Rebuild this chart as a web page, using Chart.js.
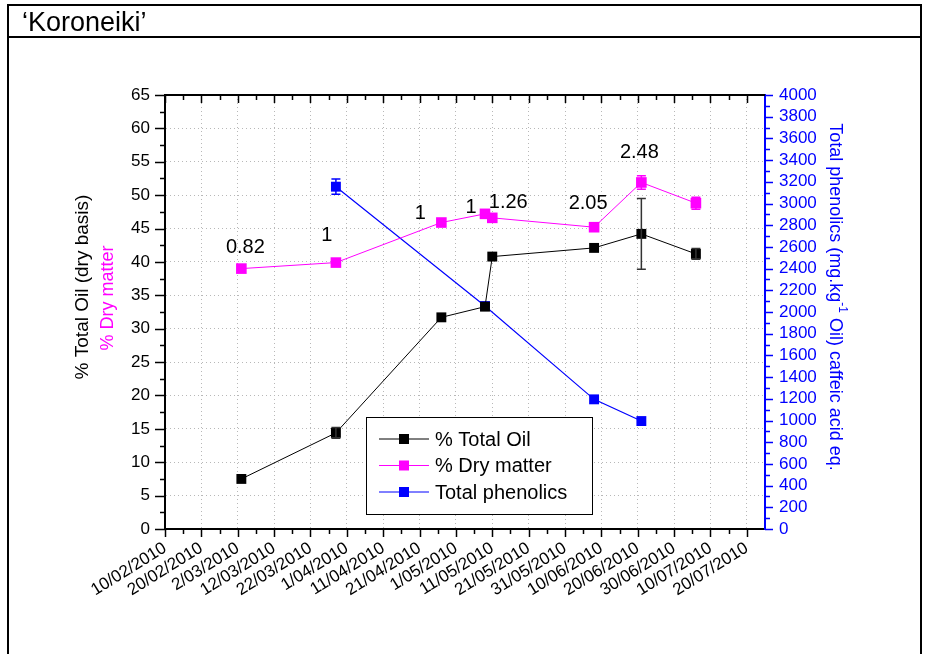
<!DOCTYPE html>
<html>
<head>
<meta charset="utf-8">
<script src="https://cdn.jsdelivr.net/npm/chart.js@4.4.1/dist/chart.umd.min.js"></script>
<style>
  html, body { margin: 0; padding: 0; background: #fff; }
</style>
</head>
<body>
<canvas id="grafico" width="926" height="654"></canvas>
<script>
// Datos
const fechasAceite = ['2010-03-03', '2010-03-29', '2010-04-27', '2010-05-09', '2010-05-11', '2010-06-08', '2010-06-21', '2010-07-06'];
const aceiteTotal = [7.5, 14.4, 31.7, 33.3, 40.8, 42.1, 44.2, 41.2];
const errorAceite = [0, 0.8, 0, 0, 0, 0, 5.3, 0.8];
const materiaSeca = [39.0, 39.9, 45.9, 47.2, 46.6, 45.2, 51.9, 48.8];
const errorMateria = [0, 0, 0, 0, 0, 0, 1.0, 0.9];
const fechasFenoles = ['2010-03-29', '2010-05-09', '2010-06-08', '2010-06-21'];
const fenolesTotales = [3155, 2055, 1195, 995];
const errorFenoles = [70, 0, 0, 0];
const etiquetasRatio = ['0.82', '1', '1', '1', '1.26', '2.05', '2.48'];
const etiquetasFechas = ['10/02/2010', '20/02/2010', '2/03/2010', '12/03/2010', '22/03/2010', '1/04/2010',
  '11/04/2010', '21/04/2010', '1/05/2010', '11/05/2010', '21/05/2010', '31/05/2010', '10/06/2010',
  '20/06/2010', '30/06/2010', '10/07/2010', '20/07/2010'];

const FUENTE = "'Liberation Sans', Arial, sans-serif";
const DIA0 = Date.UTC(2010, 1, 10);
const DIA_MS = 86400000;

// Helper: fecha ISO -> días desde el inicio del eje
function dia(iso) {
  return Math.round((Date.parse(iso) - DIA0) / DIA_MS);
}
// Helper: 'd/mm/yyyy' -> días desde el inicio del eje
function diaDMY(txt) {
  const [d, m, a] = txt.split('/').map(Number);
  return Math.round((Date.UTC(a, m - 1, d) - DIA0) / DIA_MS);
}

const serieAceite = fechasAceite.map((f, i) => ({ x: dia(f), y: aceiteTotal[i] }));
const serieMateria = fechasAceite.map((f, i) => ({ x: dia(f), y: materiaSeca[i] }));
const serieFenoles = fechasFenoles.map((f, i) => ({ x: dia(f), y: fenolesTotales[i] }));

// ----------- Marco, título y marcas de los ejes -----------
const marcoPlugin = {
  id: 'marco',
  afterDraw(chart) {
    const c = chart.ctx;
    const a = chart.chartArea;
    const sx = chart.scales.x, sy = chart.scales.y, sy2 = chart.scales.y2;
    c.save();
    // marco exterior
    c.strokeStyle = '#000';
    c.lineWidth = 2;
    c.beginPath();
    c.moveTo(8, 654); c.lineTo(8, 5); c.lineTo(921, 5); c.lineTo(921, 654);
    c.moveTo(8, 37); c.lineTo(921, 37);
    c.stroke();
    c.fillStyle = '#000';
    c.font = '27px ' + FUENTE;
    c.textBaseline = 'alphabetic';
    c.fillText('\u2018Koroneiki\u2019', 22, 31);

    // borde superior del área
    c.beginPath();
    c.moveTo(a.left - 1, a.top); c.lineTo(a.right, a.top);
    c.stroke();

    // marcas: eje x abajo (hacia fuera) y arriba (hacia dentro)
    c.lineWidth = 1.5;
    c.beginPath();
    for (let d = 0; d <= 160; d += 5) {
      const px = Math.round(sx.getPixelForValue(d)) + 0.5;
      const len = d % 10 === 0 ? 8 : 5;
      c.moveTo(px, a.bottom); c.lineTo(px, a.bottom + len);
      c.moveTo(px, a.top); c.lineTo(px, a.top + len);
    }
    // eje y izquierdo
    for (let v = 0; v <= 65; v += 2.5) {
      const py = Math.round(sy.getPixelForValue(v)) + 0.5;
      const len = v % 5 === 0 ? 10 : 5;
      c.moveTo(a.left - len, py); c.lineTo(a.left, py);
    }
    c.stroke();
    // eje y derecho
    c.strokeStyle = '#0000FF';
    c.beginPath();
    for (let v = 0; v <= 4000; v += 100) {
      const py = Math.round(sy2.getPixelForValue(v)) + 0.5;
      const len = v % 200 === 0 ? 8 : 5;
      c.moveTo(a.right, py); c.lineTo(a.right + len, py);
    }
    c.stroke();

    // títulos de los ejes
    c.textAlign = 'center';
    c.textBaseline = 'middle';
    c.save();
    c.translate(83, 287); c.rotate(-Math.PI / 2);
    c.font = '19px ' + FUENTE; c.fillStyle = '#000';
    c.fillText('% Total Oil (dry basis)', 0, 0);
    c.restore();
    c.save();
    c.translate(108, 298); c.rotate(-Math.PI / 2);
    c.font = '18px ' + FUENTE; c.fillStyle = '#FF00FF';
    c.fillText('% Dry matter', 0, 0);
    c.restore();

    c.save();
    c.translate(835, 297); c.rotate(Math.PI / 2);
    c.fillStyle = '#0000FF';
    c.textAlign = 'left';
    const p1 = 'Total phenolics (mg.kg', sup = '-1', p3 = ' Oil) caffeic acid eq.';
    c.font = '18px ' + FUENTE;
    const w1 = c.measureText(p1).width, w3 = c.measureText(p3).width;
    c.font = '12px ' + FUENTE;
    const w2 = c.measureText(sup).width;
    let x0 = -(w1 + w2 + w3) / 2;
    c.font = '18px ' + FUENTE;
    c.fillText(p1, x0, 0);
    c.font = '12px ' + FUENTE;
    c.fillText(sup, x0 + w1, -7);
    c.font = '18px ' + FUENTE;
    c.fillText(p3, x0 + w1 + w2, 0);
    c.restore();
    c.restore();
  }
};

// ----------- Barras de error, anotaciones y leyenda -----------
const extrasPlugin = {
  id: 'extras',
  afterDatasetsDraw(chart) {
    const c = chart.ctx;
    const sx = chart.scales.x, sy = chart.scales.y, sy2 = chart.scales.y2;
    c.save();
    function barra(xv, yv, err, escala, color) {
      if (!err) return;
      const px = sx.getPixelForValue(xv);
      const y1 = escala.getPixelForValue(yv + err), y2 = escala.getPixelForValue(yv - err);
      c.strokeStyle = color;
      c.lineWidth = 1.5;
      c.beginPath();
      c.moveTo(px, y1); c.lineTo(px, y2);
      c.moveTo(px - 4.5, y1); c.lineTo(px + 4.5, y1);
      c.moveTo(px - 4.5, y2); c.lineTo(px + 4.5, y2);
      c.stroke();
    }
    serieAceite.forEach((p, i) => barra(p.x, p.y, errorAceite[i], sy, '#333'));
    serieMateria.forEach((p, i) => barra(p.x, p.y, errorMateria[i], sy, '#FF00FF'));
    serieFenoles.forEach((p, i) => barra(p.x, p.y, errorFenoles[i], sy2, '#0000FF'));

    // anotaciones sobre los puntos de materia seca
    const despl = [[4, -21], [-9, -27], [-21, -9], [-14, -6], [16, -15], [-6, -24], [-2, -30]];
    c.fillStyle = '#000';
    c.font = '20px ' + FUENTE;
    c.textAlign = 'center';
    c.textBaseline = 'middle';
    etiquetasRatio.forEach((t, i) => {
      const p = serieMateria[i];
      c.fillText(t, sx.getPixelForValue(p.x) + despl[i][0], sy.getPixelForValue(p.y) + despl[i][1]);
    });

    // leyenda
    c.fillStyle = '#fff';
    c.fillRect(366, 417, 227, 98);
    c.strokeStyle = '#000';
    c.lineWidth = 1;
    c.strokeRect(366.5, 417.5, 226, 97);
    c.textAlign = 'left';
    chart.data.datasets.forEach((ds, i) => {
      const y = 439 + i * 26.5;
      c.strokeStyle = ds.borderColor;
      c.lineWidth = 1;
      c.beginPath();
      c.moveTo(379, y); c.lineTo(429, y);
      c.stroke();
      c.fillStyle = ds.backgroundColor;
      c.fillRect(399, y - 5, 10, 10);
      c.fillStyle = '#000';
      c.fillText(ds.label, 435, y + 1);
    });
    c.restore();
  }
};

const colorRejilla = '#b8b8b8';

new Chart(document.getElementById('grafico'), {
  type: 'line',
  data: {
    datasets: [
      {
        label: '% Total Oil', data: serieAceite, yAxisID: 'y',
        borderColor: '#000000', backgroundColor: '#000000', borderWidth: 1,
        pointStyle: 'rect', pointRadius: 7, pointBorderWidth: 0, tension: 0
      },
      {
        label: '% Dry matter', data: serieMateria, yAxisID: 'y',
        borderColor: '#FF00FF', backgroundColor: '#FF00FF', borderWidth: 1,
        pointStyle: 'rect', pointRadius: 7.5, pointBorderWidth: 0, tension: 0
      },
      {
        label: 'Total phenolics', data: serieFenoles, yAxisID: 'y2',
        borderColor: '#0000FF', backgroundColor: '#0000FF', borderWidth: 1.2,
        pointStyle: 'rect', pointRadius: 7, pointBorderWidth: 0, tension: 0
      }
    ]
  },
  options: {
    responsive: false,
    animation: false,
    devicePixelRatio: 1,
    layout: { padding: { top: 95, left: 0, right: 0, bottom: 0 } },
    plugins: { legend: { display: false }, tooltip: { enabled: false } },
    scales: {
      x: {
        type: 'linear', min: 0, max: 165,
        afterBuildTicks: s => { s.ticks = etiquetasFechas.map(l => ({ value: diaDMY(l) })); },
        afterFit: s => { s.height = 125; },
        ticks: {
          autoSkip: false, minRotation: 32, maxRotation: 32, padding: 9,
          color: '#000', font: { family: FUENTE, size: 17 },
          callback: (v, i) => etiquetasFechas[i]
        },
        grid: { drawTicks: false, color: c => (c.tick && c.tick.value === 0 ? 'rgba(0,0,0,0)' : colorRejilla) },
        border: { color: '#000', width: 2, dash: [1, 3] }
      },
      y: {
        position: 'left', min: 0, max: 65,
        afterFit: s => { s.width = 165; },
        ticks: { stepSize: 5, autoSkip: false, padding: 15, color: '#000', font: { family: FUENTE, size: 17 } },
        grid: { drawTicks: false, color: colorRejilla },
        border: { color: '#000', width: 2, dash: [1, 3] }
      },
      y2: {
        position: 'right', min: 0, max: 4000,
        afterFit: s => { s.width = 161; },
        ticks: {
          stepSize: 200, autoSkip: false, padding: 14, color: '#0000FF', font: { family: FUENTE, size: 17 },
          callback: v => String(v)
        },
        grid: { drawOnChartArea: false, drawTicks: false },
        border: { color: '#0000FF', width: 2 }
      }
    }
  },
  plugins: [marcoPlugin, extrasPlugin]
});
</script>
</body>
</html>
